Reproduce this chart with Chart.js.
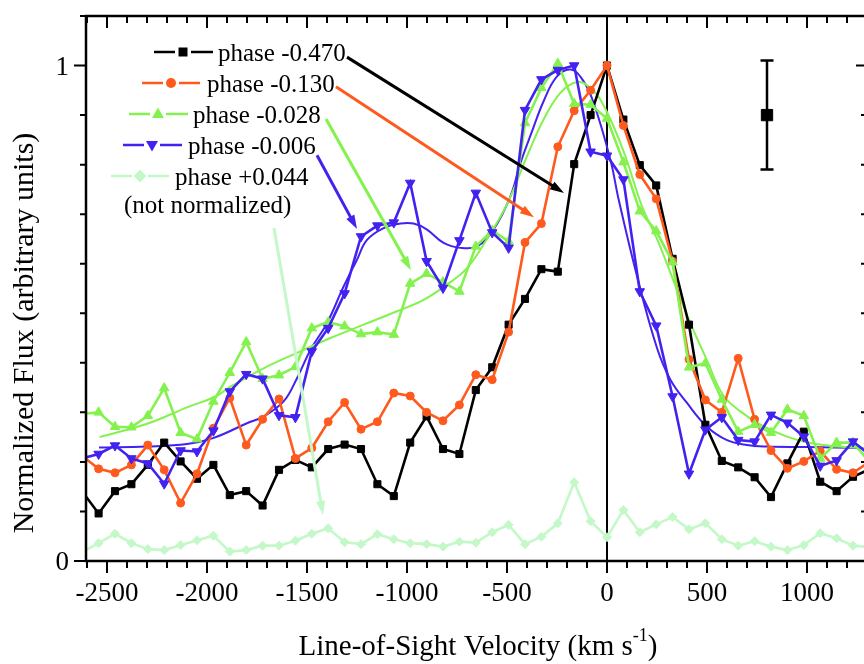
<!DOCTYPE html>
<html><head><meta charset="utf-8">
<script src="https://cdn.jsdelivr.net/npm/chart.js@4.4.0/dist/chart.umd.min.js"></script>
<style>html,body{margin:0;padding:0;background:#fff;}canvas{display:block;}</style>
</head><body>
<canvas id="c" width="864" height="664"></canvas>
<script>
// ---------------- data ----------------
const velocity = [-2624,-2542,-2460,-2378,-2296,-2214,-2132,-2050,-1968,-1886,-1804,-1722,-1640,-1558,-1476,-1394,-1312,-1230,-1148,-1066,-984,-902,-820,-738,-656,-574,-492,-410,-328,-246,-164,-82,0,82,164,246,328,410,492,574,656,738,820,902,984,1066,1148,1230,1312];
const phaseM0470 = [0.140,0.096,0.141,0.155,0.194,0.239,0.201,0.166,0.194,0.133,0.141,0.112,0.184,0.204,0.189,0.226,0.235,0.226,0.155,0.131,0.239,0.292,0.226,0.216,0.345,0.391,0.477,0.529,0.589,0.584,0.801,0.900,1.000,0.891,0.799,0.758,0.610,0.477,0.275,0.202,0.189,0.169,0.129,0.197,0.261,0.160,0.141,0.170,0.185];
const phaseM0130 = [0.212,0.186,0.178,0.194,0.234,0.184,0.117,0.176,0.268,0.329,0.234,0.286,0.327,0.207,0.228,0.281,0.320,0.266,0.281,0.339,0.333,0.300,0.283,0.315,0.376,0.366,0.462,0.643,0.681,0.836,0.909,0.950,1.000,0.879,0.780,0.731,0.605,0.407,0.325,0.300,0.409,0.286,0.223,0.187,0.201,0.222,0.185,0.178,0.200];
const phaseM0028 = [0.297,0.300,0.271,0.270,0.293,0.349,0.259,0.246,0.322,0.380,0.442,0.368,0.375,0.392,0.470,0.482,0.474,0.458,0.462,0.457,0.560,0.580,0.563,0.544,0.635,0.667,0.645,0.884,0.955,1.004,0.923,0.921,0.893,0.805,0.706,0.666,0.603,0.391,0.399,0.326,0.261,0.275,0.259,0.306,0.293,0.207,0.239,0.239,0.200];
const phaseM0006 = [0.207,0.216,0.233,0.207,0.197,0.156,0.223,0.221,0.263,0.342,0.377,0.368,0.294,0.290,0.423,0.470,0.540,0.655,0.677,0.683,0.763,0.605,0.551,0.647,0.743,0.663,0.632,0.910,0.972,0.991,1.000,0.826,0.818,0.770,0.544,0.475,0.332,0.176,0.265,0.290,0.244,0.241,0.295,0.279,0.251,0.192,0.203,0.241,0.215];
const phaseP0044 = [0.018,0.036,0.055,0.036,0.024,0.022,0.032,0.042,0.051,0.019,0.022,0.031,0.031,0.041,0.055,0.066,0.038,0.034,0.054,0.044,0.036,0.034,0.029,0.039,0.037,0.058,0.073,0.034,0.049,0.076,0.159,0.080,0.048,0.103,0.058,0.074,0.089,0.064,0.076,0.044,0.031,0.040,0.029,0.022,0.032,0.056,0.046,0.031,0.028];

// smooth fits
const fitGreenV = [-2537,-2292,-2100,-1958,-1883,-1717,-1550,-1383,-1217,-1050,-917,-800,-700,-600,-500,-400,-317,-233,-150,-83,-33,33,92,175,250,333,417,500,580,667,767,900,1017,1150,1290];
const fitGreenY = [0.250,0.278,0.310,0.332,0.352,0.389,0.420,0.450,0.477,0.504,0.527,0.558,0.591,0.650,0.720,0.817,0.891,0.945,0.967,0.955,0.931,0.877,0.817,0.716,0.650,0.565,0.480,0.405,0.335,0.302,0.275,0.251,0.238,0.231,0.228];
const fitBlueV = [-2540,-2300,-2100,-1970,-1800,-1717,-1617,-1550,-1483,-1400,-1317,-1250,-1200,-1117,-1033,-967,-900,-817,-733,-650,-567,-483,-433,-375,-317,-250,-180,-120,-67,17,58,150,250,317,400,500,600,700,800,1000,1290];
const fitBlueY = [0.229,0.231,0.236,0.248,0.278,0.292,0.322,0.369,0.426,0.480,0.554,0.608,0.648,0.672,0.681,0.681,0.669,0.642,0.632,0.635,0.669,0.736,0.803,0.867,0.928,0.978,0.992,0.970,0.925,0.810,0.730,0.575,0.430,0.366,0.319,0.271,0.244,0.234,0.231,0.230,0.228];

// representative error bar
const errX = [800];
const errY = [0.90];
const errLow = [0.79];
const errHigh = [1.01];

// axes
const xTickLabels = [-2500,-2000,-1500,-1000,-500,0,500,1000];
const yTickLabels = [0,1];

// ---------------- styles ----------------
const C_BLACK = '#000000', C_ORANGE = '#ff5a1e', C_GREEN = '#84f24e', C_BLUE = '#4222f0', C_PALE = '#c4f8c8';
const SERIF = '"Liberation Serif","Times New Roman",serif';

function mk(xs, ys){ return xs.map((v,i)=>({x:v, y:ys[i]})); }

const datasets = [
  {label:'phase -0.006', data:mk(velocity,phaseM0006), borderColor:C_BLUE, backgroundColor:C_BLUE, pointStyle:'triangle', pointRotation:180, pointRadius:5.5, borderWidth:2.6, order:1},
  {label:'phase -0.028', data:mk(velocity,phaseM0028), borderColor:C_GREEN, backgroundColor:C_GREEN, pointStyle:'triangle', pointRadius:5.5, borderWidth:2.6, order:2},
  {label:'phase -0.130', data:mk(velocity,phaseM0130), borderColor:C_ORANGE, backgroundColor:C_ORANGE, pointStyle:'circle', pointRadius:4, borderWidth:2.6, order:3},
  {label:'phase -0.470', data:mk(velocity,phaseM0470), borderColor:C_BLACK, backgroundColor:C_BLACK, pointStyle:'rect', pointRadius:5, borderWidth:2.6, order:4},
  {label:'fit -0.028', data:mk(fitGreenV,fitGreenY), borderColor:C_GREEN, pointRadius:0, borderWidth:2, tension:0.4, order:5},
  {label:'fit -0.006', data:mk(fitBlueV,fitBlueY), borderColor:C_BLUE, pointRadius:0, borderWidth:2, tension:0.4, order:5},
  {label:'phase +0.044', data:mk(velocity,phaseP0044), borderColor:C_PALE, backgroundColor:C_PALE, pointStyle:'rectRot', pointRadius:4.5, borderWidth:2.6, order:6},
  {label:'error', data:mk(errX,errY), showLine:false, borderColor:C_BLACK, backgroundColor:C_BLACK, pointStyle:'rect', pointRadius:8, order:0}
];
datasets.forEach(d=>{ d.pointBorderColor=d.borderColor; d.pointBackgroundColor=d.borderColor; d.pointBorderWidth=1; if(d.tension===undefined) d.tension=0; d.fill=false; });

// legend entries (screen layout)
const legendRows = [
  {name:'phase -0.470', color:C_BLACK, style:'square', x0:154, mx:183, x1:213, y:52, tx:218},
  {name:'phase -0.130', color:C_ORANGE, style:'circle', x0:142, mx:171, x1:200, y:83, tx:207},
  {name:'phase -0.028', color:C_GREEN, style:'tri', x0:129, mx:158, x1:188, y:114, tx:193},
  {name:'phase -0.006', color:C_BLUE, style:'tridown', x0:123, mx:152, x1:182, y:145, tx:188},
  {name:'phase +0.044', color:C_PALE, style:'diamond', x0:111, mx:140, x1:169, y:176, tx:175}
];
// annotation arrows in data coordinates [fromV, fromY, toV, toY]
const arrows = [
  {c:C_BLACK, p:[-1300,1.017,-215,0.743]},
  {c:C_ORANGE, p:[-1355,0.957,-365,0.694]},
  {c:C_GREEN, p:[-1405,0.892,-980,0.587]},
  {c:C_BLUE, p:[-1450,0.819,-1250,0.670]},
  {c:C_PALE, p:[-1665,0.672,-1420,0.093]}
];

function marker(ctx, style, x, y, color){
  ctx.save(); ctx.fillStyle=color; ctx.beginPath();
  if(style==='square'){ ctx.rect(x-4.5,y-4.5,9,9); }
  else if(style==='circle'){ ctx.arc(x,y,5,0,Math.PI*2); }
  else if(style==='tri'){ ctx.moveTo(x,y-6.5); ctx.lineTo(x+6,y+4); ctx.lineTo(x-6,y+4); ctx.closePath(); }
  else if(style==='tridown'){ ctx.moveTo(x,y+6.5); ctx.lineTo(x+6,y-4); ctx.lineTo(x-6,y-4); ctx.closePath(); }
  else if(style==='diamond'){ ctx.moveTo(x,y-6.5); ctx.lineTo(x+6.5,y); ctx.lineTo(x,y+6.5); ctx.lineTo(x-6.5,y); ctx.closePath(); }
  ctx.fill(); ctx.restore();
}

const framePlugin = {
  id:'frame',
  beforeDatasetsDraw(chart){
    const {ctx, chartArea:a, scales:{x}} = chart;
    ctx.save();
    ctx.strokeStyle='#000'; ctx.lineWidth=2;
    const x0 = x.getPixelForValue(0);
    ctx.beginPath(); ctx.moveTo(x0,a.top); ctx.lineTo(x0,a.bottom); ctx.stroke();
    ctx.restore();
  },
  afterDatasetsDraw(chart){
    const {ctx, chartArea:a, scales:{x,y}} = chart;
    ctx.save();
    // error bar whiskers
    ctx.strokeStyle='#000'; ctx.lineWidth=2.5;
    errX.forEach((v,i)=>{
      const px=x.getPixelForValue(v), pl=y.getPixelForValue(errLow[i]), ph=y.getPixelForValue(errHigh[i]);
      ctx.beginPath(); ctx.moveTo(px,pl); ctx.lineTo(px,ph);
      ctx.moveTo(px-6.5,pl); ctx.lineTo(px+6.5,pl);
      ctx.moveTo(px-6.5,ph); ctx.lineTo(px+6.5,ph); ctx.stroke();
    });
    // frame
    ctx.lineWidth=2.5; ctx.strokeStyle='#000';
    ctx.beginPath();
    ctx.moveTo(a.right+4,a.top); ctx.lineTo(a.left,a.top); ctx.lineTo(a.left,a.bottom); ctx.lineTo(a.right+4,a.bottom);
    ctx.stroke();
    // x ticks
    ctx.lineWidth=2;
    for(let v=-2600; v<=1285; v+=100){
      const px=x.getPixelForValue(v); if(px<a.left-0.5) continue;
      const major = (v%500===0);
      const L = major?12:7;
      ctx.beginPath(); ctx.moveTo(px,a.bottom); ctx.lineTo(px,a.bottom+L);
      ctx.moveTo(px,a.top); ctx.lineTo(px,a.top+L); ctx.stroke();
    }
    // y ticks
    for(let i=0;i<=11;i++){
      const val=i/10, py=y.getPixelForValue(val);
      const major=(i===0||i===10);
      const L = major?12:6;
      ctx.beginPath(); ctx.moveTo(a.left,py); ctx.lineTo(a.left-L,py);
      ctx.moveTo(a.right+3,py); ctx.lineTo(a.right+3-(major?11:6),py); ctx.stroke();
    }
    // tick labels
    ctx.fillStyle='#000';
    ctx.font='27px '+SERIF; ctx.textAlign='center'; ctx.textBaseline='alphabetic';
    xTickLabels.forEach(v=>{ ctx.fillText(String(v), x.getPixelForValue(v), 601); });
    ctx.textAlign='right';
    yTickLabels.forEach(v=>{ ctx.fillText(String(v), 69, y.getPixelForValue(v)+9); });
    // x title with superscript
    ctx.font='29px '+SERIF; ctx.textAlign='left';
    const t1='Line-of-Sight Velocity (km s', t2='-1', t3=')';
    const w1=ctx.measureText(t1).width; ctx.font='18px '+SERIF; const w2=ctx.measureText(t2).width;
    ctx.font='29px '+SERIF; const w3=ctx.measureText(t3).width;
    let sx = 478 - (w1+w2+w3)/2;
    ctx.fillText(t1, sx, 655);
    ctx.font='18px '+SERIF; ctx.fillText(t2, sx+w1, 641);
    ctx.font='29px '+SERIF; ctx.fillText(t3, sx+w1+w2, 655);
    // y title
    ctx.save(); ctx.translate(33,333); ctx.rotate(-Math.PI/2);
    ctx.font='30px '+SERIF; ctx.textAlign='center';
    ctx.fillText('Normalized Flux (arbitrary units)',0,0);
    ctx.restore();
    // legend
    ctx.font='25px '+SERIF; ctx.textAlign='left';
    legendRows.forEach(r=>{
      ctx.strokeStyle=r.color; ctx.lineWidth=2.6;
      ctx.beginPath(); ctx.moveTo(r.x0,r.y); ctx.lineTo(r.mx-8,r.y); ctx.moveTo(r.mx+8,r.y); ctx.lineTo(r.x1,r.y); ctx.stroke();
      marker(ctx, r.style, r.mx, r.y, r.color);
      ctx.fillStyle='#000'; ctx.fillText(r.name, r.tx, r.y+9);
    });
    ctx.fillText('(not normalized)', 124, 213);
    // arrows
    arrows.forEach(ar=>{
      const [v0,y0,v1,y1]=ar.p;
      const X0=x.getPixelForValue(v0), Y0=y.getPixelForValue(y0), X1=x.getPixelForValue(v1), Y1=y.getPixelForValue(y1);
      const ang=Math.atan2(Y1-Y0,X1-X0), hl=14, hw=4.5;
      const bx=X1-hl*Math.cos(ang), by=Y1-hl*Math.sin(ang);
      ctx.strokeStyle=ar.c; ctx.fillStyle=ar.c; ctx.lineWidth=3;
      ctx.beginPath(); ctx.moveTo(X0,Y0); ctx.lineTo(bx+3*Math.cos(ang),by+3*Math.sin(ang)); ctx.stroke();
      ctx.beginPath(); ctx.moveTo(X1,Y1);
      ctx.lineTo(bx+hw*Math.sin(ang), by-hw*Math.cos(ang));
      ctx.lineTo(bx-hw*Math.sin(ang), by+hw*Math.cos(ang));
      ctx.closePath(); ctx.fill();
    });
    ctx.restore();
  }
};

new Chart(document.getElementById('c'), {
  type:'line',
  data:{datasets},
  options:{
    responsive:false, animation:false, devicePixelRatio:1,
    layout:{autoPadding:false, padding:{left:86, top:16, right:0, bottom:103}},
    plugins:{legend:{display:false}, tooltip:{enabled:false}},
    scales:{
      x:{type:'linear', min:-2605, max:1285, display:false},
      y:{type:'linear', min:0, max:1.1, display:false}
    }
  },
  plugins:[framePlugin]
});
</script>
</body></html>
